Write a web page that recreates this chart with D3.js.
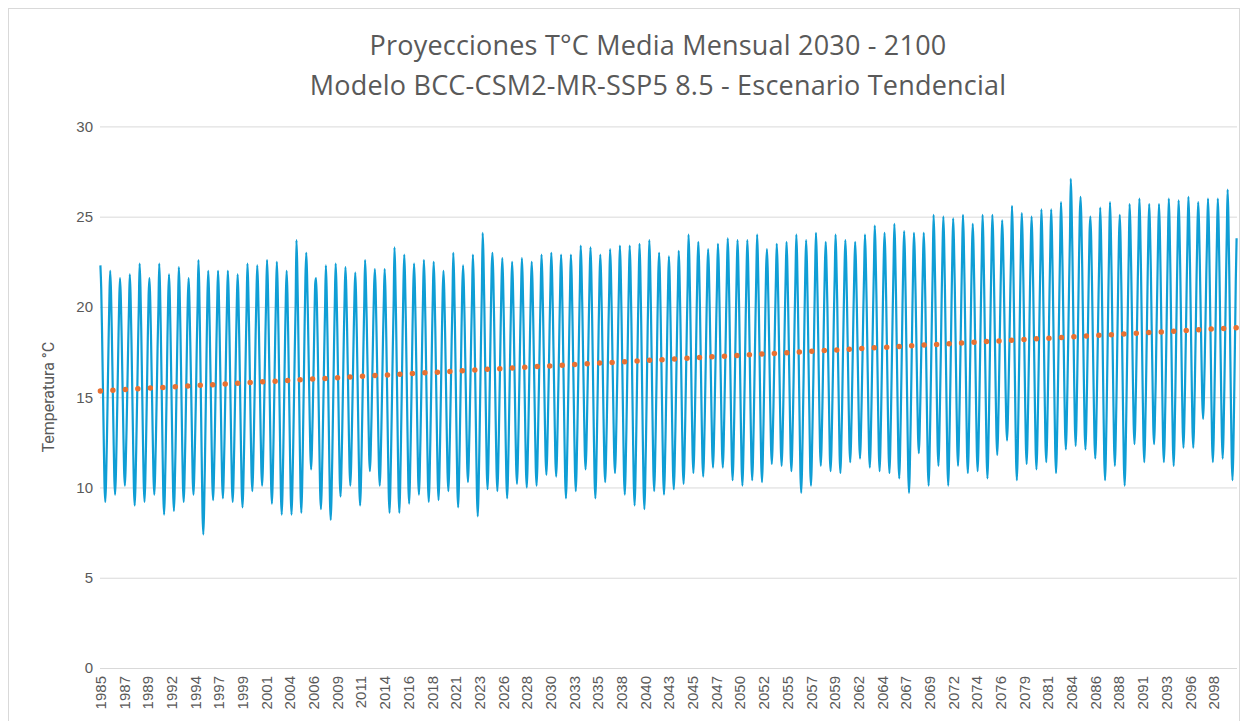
<!DOCTYPE html>
<html>
<head>
<meta charset="utf-8">
<script src="https://cdn.jsdelivr.net/npm/d3@7"></script>
<style>
  body { margin: 0; background: #fff; }
  svg { display: block; font-family: Roboto, "Open Sans", sans-serif; }
</style>
</head>
<body>
<div id="chart"></div>
<script>
// Monthly mean temperature, Jan 1985 .. Dec 2100 (one row per year)
const firstYear = 1985;
const monthlyTemp = [
  22.3,21.0,18.6,15.8,12.9,10.2,9.2,10.5,12.7,15.4,18.1,20.5, // 1985
  22.0,20.8,18.5,15.8,13.1,10.6,9.6,10.8,13.0,15.4,18.0,20.3, // 1986
  21.6,20.5,18.4,15.9,13.3,11.0,10.1,11.3,13.2,15.5,17.9,20.0, // 1987
  21.8,20.5,18.2,15.4,12.6,10.0,9.0,10.3,12.5,15.0,17.7,20.0, // 1988
  22.4,21.1,18.7,15.8,12.9,10.3,9.2,10.5,12.8,15.4,18.2,20.6, // 1989
  21.6,20.4,18.2,15.6,13.0,10.6,9.6,10.8,12.8,15.2,17.8,19.9, // 1990
  22.4,21.0,18.5,15.5,12.4,9.6,8.5,9.9,12.3,15.0,18.0,20.5, // 1991
  21.8,20.5,18.1,15.3,12.4,9.8,8.7,10.0,12.2,14.9,17.6,20.0, // 1992
  22.2,20.9,18.6,15.7,12.8,10.2,9.2,10.5,12.7,15.3,18.0,20.4, // 1993
  21.6,20.3,18.1,15.7,13.1,10.5,9.6,10.9,12.9,15.1,17.9,20.1, // 1994
  22.6,21.1,18.3,15.0,11.7,8.6,7.4,8.9,11.5,14.5,17.7,20.5, // 1995
  22.0,20.7,18.4,15.7,12.9,10.3,9.3,10.6,12.7,15.3,17.9,20.2, // 1996
  22.0,20.7,18.5,15.7,12.9,10.4,9.4,10.7,12.8,15.3,18.0,20.2, // 1997
  22.0,20.7,18.4,15.6,12.8,10.2,9.2,10.5,12.7,15.2,17.9,20.2, // 1998
  21.8,20.5,18.2,15.4,12.5,9.9,8.9,10.2,12.4,15.0,17.7,20.0, // 1999
  22.4,21.1,18.9,16.1,13.3,10.8,9.8,11.1,13.2,15.7,18.4,20.6, // 2000
  22.3,21.1,18.9,16.2,13.5,11.1,10.1,11.3,13.4,15.8,18.4,20.6, // 2001
  22.6,21.3,18.8,15.9,12.9,10.2,9.1,10.5,12.8,15.5,18.3,20.7, // 2002
  22.5,21.1,18.6,15.5,12.4,9.6,8.5,9.9,12.3,15.1,18.0,20.5, // 2003
  22.0,20.7,18.2,15.3,12.3,9.6,8.5,9.9,12.2,14.9,17.7,20.1, // 2004
  23.7,22.2,19.5,16.2,12.8,9.8,8.6,10.1,12.7,15.7,18.9,21.6, // 2005
  23.0,21.8,19.6,17.0,14.4,12.0,11.0,12.2,14.2,16.6,19.2,21.3, // 2006
  21.6,20.3,18.0,15.2,12.4,9.8,8.8,10.1,12.3,14.8,17.5,19.8, // 2007
  22.3,20.9,18.4,15.3,12.2,9.3,8.2,9.6,12.0,14.8,17.8,20.3, // 2008
  22.4,21.1,18.8,16.0,13.1,10.5,9.5,10.8,13.0,15.6,18.3,20.6, // 2009
  22.2,21.0,18.8,16.2,13.5,11.1,10.1,11.3,13.4,15.8,18.3,20.5, // 2010
  21.9,20.6,18.3,15.5,12.6,10.0,9.0,10.3,12.5,15.1,17.8,20.1, // 2011
  22.6,21.4,19.3,16.8,14.2,11.8,10.9,12.1,14.1,16.4,18.9,21.0, // 2012
  22.1,20.9,18.7,16.1,13.5,11.1,10.1,11.3,13.3,15.7,18.3,20.4, // 2013
  22.1,20.8,18.3,15.4,12.4,9.7,8.6,10.0,12.3,15.0,17.8,20.2, // 2014
  23.3,21.8,19.2,16.0,12.7,9.8,8.6,10.1,12.6,15.5,18.6,21.2, // 2015
  22.9,21.5,19.0,16.0,13.0,10.2,9.1,10.5,12.8,15.6,18.5,21.0, // 2016
  22.4,21.1,18.8,16.0,13.2,10.6,9.6,10.9,13.1,15.6,18.3,20.6, // 2017
  22.6,21.3,18.9,15.9,13.0,10.3,9.2,10.5,12.8,15.5,18.3,20.7, // 2018
  22.5,21.2,18.8,15.9,13.0,10.4,9.3,10.6,12.9,15.5,18.3,20.7, // 2019
  22.0,20.8,18.6,15.9,13.2,10.8,9.8,11.0,13.1,15.5,18.1,20.3, // 2020
  23.0,21.6,19.1,16.0,12.9,10.0,8.9,10.3,12.7,15.5,18.5,21.0, // 2021
  22.3,21.1,18.9,16.3,13.7,11.3,10.3,11.5,13.5,15.9,18.5,20.6, // 2022
  22.9,21.5,18.8,15.7,12.5,9.6,8.4,9.9,12.3,15.2,18.3,20.9, // 2023
  24.1,22.7,20.1,17.0,13.9,11.0,9.9,11.3,13.7,16.6,19.6,22.1, // 2024
  23.0,21.7,19.3,16.4,13.5,10.9,9.8,11.1,13.4,16.0,18.8,21.2, // 2025
  22.7,21.4,19.0,16.1,13.1,10.5,9.4,10.7,13.0,15.7,18.4,20.8, // 2026
  22.5,21.3,19.1,16.4,13.6,11.2,10.2,11.4,13.5,16.0,18.6,20.8, // 2027
  22.7,21.4,19.1,16.4,13.6,11.0,10.0,11.3,13.4,16.0,18.6,20.9, // 2028
  22.5,21.3,19.0,16.3,13.6,11.1,10.1,11.3,13.5,15.9,18.5,20.8, // 2029
  22.9,21.7,19.5,16.8,14.1,11.7,10.7,11.9,14.0,16.4,19.0,21.2, // 2030
  23.0,21.8,19.5,16.8,14.1,11.6,10.6,11.8,14.0,16.4,19.0,21.3, // 2031
  22.9,21.6,19.1,16.2,13.2,10.5,9.4,10.8,13.1,15.8,18.6,21.0, // 2032
  22.9,21.6,19.2,16.4,13.5,10.9,9.8,11.1,13.3,16.0,18.7,21.1, // 2033
  23.4,22.2,19.9,17.2,14.5,12.0,11.0,12.2,14.4,16.8,19.4,21.7, // 2034
  23.3,21.9,19.4,16.4,13.3,10.5,9.4,10.8,13.2,15.9,18.9,21.4, // 2035
  22.9,21.6,19.4,16.6,13.8,11.3,10.3,11.6,13.7,16.2,18.9,21.1, // 2036
  23.2,22.0,19.7,17.0,14.3,11.8,10.8,12.0,14.2,16.6,19.2,21.5, // 2037
  23.4,22.0,19.5,16.5,13.5,10.7,9.6,11.0,13.3,16.1,19.0,21.5, // 2038
  23.4,22.0,19.4,16.2,13.0,10.2,9.0,10.4,12.9,15.8,18.8,21.4, // 2039
  23.5,22.0,19.4,16.2,12.9,10.0,8.8,10.3,12.8,15.7,18.8,21.4, // 2040
  23.7,22.3,19.8,16.8,13.7,10.9,9.8,11.2,13.6,16.3,19.3,21.8, // 2041
  23.0,21.7,19.3,16.3,13.4,10.7,9.6,10.9,13.2,15.9,18.7,21.1, // 2042
  22.8,21.5,19.2,16.4,13.5,10.9,9.9,11.2,13.4,16.0,18.7,21.0, // 2043
  23.1,21.8,19.5,16.7,13.8,11.2,10.2,11.5,13.7,16.3,19.0,21.3, // 2044
  24.0,22.7,20.3,17.4,14.5,11.9,10.8,12.1,14.4,17.0,19.8,22.2, // 2045
  23.6,22.3,20.0,17.1,14.2,11.6,10.6,11.9,14.1,16.7,19.4,21.8, // 2046
  23.2,22.0,19.8,17.2,14.5,12.1,11.1,12.3,14.4,16.8,19.3,21.5, // 2047
  23.5,22.3,20.0,17.3,14.6,12.1,11.1,12.3,14.5,16.9,19.5,21.8, // 2048
  23.8,22.5,20.1,17.1,14.2,11.5,10.4,11.7,14.0,16.7,19.5,21.9, // 2049
  23.7,22.3,19.9,16.9,13.9,11.2,10.1,11.5,13.8,16.5,19.4,21.8, // 2050
  23.7,22.4,20.0,17.1,14.1,11.5,10.4,11.7,14.0,16.7,19.4,21.8, // 2051
  24.0,22.6,20.2,17.2,14.1,11.4,10.3,11.7,14.0,16.7,19.6,22.1, // 2052
  23.2,22.0,19.9,17.3,14.6,12.3,11.3,12.5,14.5,16.9,19.4,21.5, // 2053
  23.5,22.3,20.1,17.4,14.6,12.2,11.2,12.4,14.5,17.0,19.6,21.8, // 2054
  23.6,22.3,20.0,17.3,14.5,11.9,10.9,12.2,14.3,16.9,19.5,21.8, // 2055
  24.0,22.6,20.0,16.9,13.7,10.8,9.7,11.1,13.6,16.4,19.4,22.0, // 2056
  23.7,22.4,19.8,16.8,14.0,11.1,10.1,11.6,13.9,16.4,19.3,21.9, // 2057
  24.1,22.8,20.5,17.7,14.8,12.2,11.2,12.5,14.7,17.3,20.0,22.3, // 2058
  23.6,22.2,20.1,17.2,14.6,11.8,10.9,12.1,14.4,16.8,19.6,21.7, // 2059
  24.0,22.6,20.4,17.3,14.6,11.8,10.8,12.2,14.3,17.1,19.7,22.1, // 2060
  23.7,22.5,20.3,17.6,14.8,12.4,11.4,12.6,14.7,17.2,19.8,22.0, // 2061
  23.6,22.4,20.2,17.6,15.0,12.6,11.6,12.8,14.8,17.2,19.8,21.9, // 2062
  24.0,22.7,20.4,17.6,14.7,12.1,11.1,12.4,14.6,17.2,19.9,22.2, // 2063
  24.5,23.1,20.7,17.7,14.7,12.0,10.9,12.3,14.6,17.3,20.2,22.6, // 2064
  24.1,22.8,20.4,17.5,14.5,11.9,10.8,12.1,14.4,17.1,19.8,22.2, // 2065
  24.6,23.2,20.7,17.6,14.5,11.6,10.5,11.9,14.3,17.1,20.1,22.6, // 2066
  24.2,22.8,20.1,17.0,13.8,10.9,9.7,11.2,13.6,16.5,19.6,22.2, // 2067
  24.1,22.9,20.7,18.0,15.3,12.9,11.9,13.1,15.2,17.6,20.2,22.4, // 2068
  24.1,22.7,20.2,17.1,14.0,11.2,10.1,11.5,13.9,16.7,19.6,22.1, // 2069
  25.1,23.7,21.2,18.2,15.1,12.3,11.2,12.6,15.0,17.7,20.7,23.2, // 2070
  25.0,23.5,20.8,17.6,14.3,11.3,10.1,11.6,14.1,17.1,20.2,22.9, // 2071
  24.9,23.5,21.1,18.1,15.0,12.3,11.2,12.6,14.9,17.6,20.5,23.0, // 2072
  25.1,23.7,21.1,18.0,14.8,11.9,10.8,12.2,14.7,17.5,20.5,23.1, // 2073
  24.6,23.2,20.8,17.8,14.7,12.0,10.9,12.3,14.6,17.3,20.2,22.7, // 2074
  25.1,23.6,21.0,17.8,14.6,11.7,10.5,12.0,14.4,17.4,20.4,23.1, // 2075
  25.1,23.8,21.4,18.5,15.5,12.9,11.8,13.1,15.4,18.1,20.8,23.2, // 2076
  24.8,23.6,21.4,18.7,16.0,13.6,12.6,13.8,15.9,18.3,20.9,23.1, // 2077
  25.6,24.1,21.3,18.0,14.7,11.6,10.4,11.9,14.5,17.5,20.7,23.5, // 2078
  25.2,23.8,21.3,18.3,15.2,12.4,11.3,12.7,15.1,17.8,20.8,23.3, // 2079
  25.0,23.6,21.1,18.0,14.9,12.1,11.0,12.4,14.8,17.6,20.5,23.0, // 2080
  25.4,24.0,21.5,18.4,15.3,12.5,11.4,12.8,15.2,18.0,20.9,23.4, // 2081
  25.4,23.9,21.3,18.1,14.9,12.0,10.8,12.3,14.7,17.7,20.7,23.4, // 2082
  25.8,24.4,22.0,19.0,15.9,13.2,12.1,13.5,15.8,18.5,21.4,23.9, // 2083
  27.1,25.6,23.0,19.7,16.4,13.5,12.3,13.8,16.3,19.3,22.4,25.0, // 2084
  26.1,24.7,22.2,19.1,16.0,13.2,12.1,13.5,15.9,18.7,21.6,24.1, // 2085
  25.0,23.7,21.3,18.3,15.4,12.7,11.6,12.9,15.2,17.9,20.7,23.1, // 2086
  25.5,24.0,21.3,18.0,14.6,11.6,10.4,11.9,14.5,17.5,20.7,23.4, // 2087
  25.8,24.3,21.7,18.5,15.3,12.4,11.2,12.7,15.1,18.1,21.1,23.8, // 2088
  25.1,23.6,20.9,17.6,14.3,11.3,10.1,11.6,14.2,17.2,20.3,23.0, // 2089
  25.7,24.4,22.0,19.1,16.1,13.5,12.4,13.7,16.0,18.7,21.4,23.8, // 2090
  26.0,24.5,21.9,18.7,15.5,12.6,11.4,12.9,15.3,18.3,21.3,24.0, // 2091
  25.7,24.3,22.1,19.0,16.2,13.4,12.4,13.8,15.9,18.8,21.3,23.9, // 2092
  25.7,24.3,21.7,18.6,15.4,12.5,11.4,12.8,15.3,18.1,21.1,23.7, // 2093
  26.0,24.5,21.9,18.6,15.3,12.4,11.2,12.7,15.2,18.2,21.3,23.9, // 2094
  25.9,24.5,22.1,19.1,16.0,13.3,12.2,13.6,15.9,18.6,21.5,24.0, // 2095
  26.1,24.7,22.2,19.2,16.1,13.3,12.2,13.6,16.0,18.7,21.7,24.2, // 2096
  25.8,24.6,22.4,19.8,17.2,14.8,13.8,15.0,17.0,19.4,22.0,24.1, // 2097
  26.0,24.6,21.8,18.8,15.4,12.5,11.4,12.8,15.4,18.2,21.4,23.9, // 2098
  26.0,24.6,22.0,18.8,15.6,12.8,11.6,13.0,15.5,18.4,21.4,24.0, // 2099
  26.5,24.9,22.0,18.5,14.9,11.7,10.4,12.0,14.8,18.0,21.4,23.8  // 2100
];

// Linear trend: value at first and last month
const trendEnds = [15.35, 18.85];

// Category labels shown by Excel (every 29th month)
const tickLabels = [1985, 1987, 1989, 1992, 1994, 1997, 1999, 2001, 2004, 2006, 2009, 2011,
  2014, 2016, 2018, 2021, 2023, 2026, 2028, 2030, 2033, 2035, 2038, 2040, 2043, 2045, 2047,
  2050, 2052, 2055, 2057, 2059, 2062, 2064, 2067, 2069, 2072, 2074, 2076, 2079, 2081, 2084,
  2086, 2088, 2091, 2093, 2096, 2098];
const tickStep = 29;
const yTicks = [0, 5, 10, 15, 20, 25, 30];

const titleLines = ["Proyecciones T°C Media Mensual 2030 - 2100",
  "Modelo BCC-CSM2-MR-SSP5 8.5 - Escenario Tendencial"];

const width = 1243, height = 721;
const plot = { left: 100, right: 1237, top: 126.4, bottom: 668 };
const textColor = "#595959";
const gridColor = "#d9d9d9";

const svg = d3.select("#chart").append("svg")
  .attr("width", width)
  .attr("height", height);

// chart frame
svg.append("rect")
  .attr("x", 8.5).attr("y", 8.5)
  .attr("width", width - 12).attr("height", height + 20)
  .attr("fill", "#fff")
  .attr("stroke", gridColor);

const n = monthlyTemp.length;
const x = d3.scaleBand()
  .domain(d3.range(n))
  .range([plot.left, plot.right]);
const cx = i => x(i) + x.bandwidth() / 2;

const y = d3.scaleLinear()
  .domain([0, 30])
  .range([plot.bottom, plot.top]);

// gridlines + y labels
const yAxis = svg.append("g")
  .attr("transform", `translate(${plot.left},0)`)
  .call(d3.axisLeft(y).tickValues(yTicks).tickSize(-(plot.right - plot.left)).tickPadding(7));
yAxis.select(".domain").remove();
yAxis.selectAll("line").attr("stroke", gridColor);
yAxis.selectAll("text")
  .attr("fill", textColor)
  .style("font-size", "15px");

// x labels (rotated)
const xAxis = svg.append("g")
  .attr("transform", `translate(0,${plot.bottom})`)
  .call(d3.axisBottom(x)
    .tickValues(tickLabels.map((_, i) => i * tickStep))
    .tickFormat((d, i) => tickLabels[i])
    .tickSize(0));
xAxis.select(".domain").remove();
xAxis.selectAll("text")
  .attr("transform", "rotate(-90)")
  .attr("x", -8)
  .attr("y", 0)
  .attr("dy", "0.36em")
  .style("text-anchor", "end")
  .attr("fill", textColor)
  .style("font-size", "15px");

// y axis title
svg.append("text")
  .attr("transform", `translate(48,${(plot.top + plot.bottom) / 2}) rotate(-90)`)
  .attr("text-anchor", "middle")
  .attr("dy", "0.35em")
  .attr("fill", textColor)
  .style("font-size", "16px")
  .text("Temperatura °C");

// title
svg.selectAll(".title")
  .data(titleLines)
  .join("text")
  .attr("class", "title")
  .attr("x", 658)
  .attr("y", (d, i) => 55 + i * 40)
  .attr("text-anchor", "middle")
  .attr("fill", textColor)
  .style("font-family", "'Open Sans', sans-serif")
  .style("font-size", "27px")
  .style("letter-spacing", "0.2px")
  .text(d => d);

// monthly series
const line = d3.line()
  .x((d, i) => cx(i))
  .y(d => y(d))
  .curve(d3.curveMonotoneX);

svg.append("path")
  .datum(monthlyTemp)
  .attr("fill", "none")
  .attr("stroke", "#0F9ED5")
  .attr("stroke-width", 2.2)
  .attr("stroke-linejoin", "round")
  .attr("d", line);

// trendline (round dots)
svg.append("line")
  .attr("x1", cx(0)).attr("y1", y(trendEnds[0]))
  .attr("x2", cx(n - 1)).attr("y2", y(trendEnds[1]))
  .attr("stroke", "#E97132")
  .attr("stroke-width", 5.5)
  .attr("stroke-linecap", "round")
  .attr("stroke-dasharray", "0 12.5");
</script>
</body>
</html>
